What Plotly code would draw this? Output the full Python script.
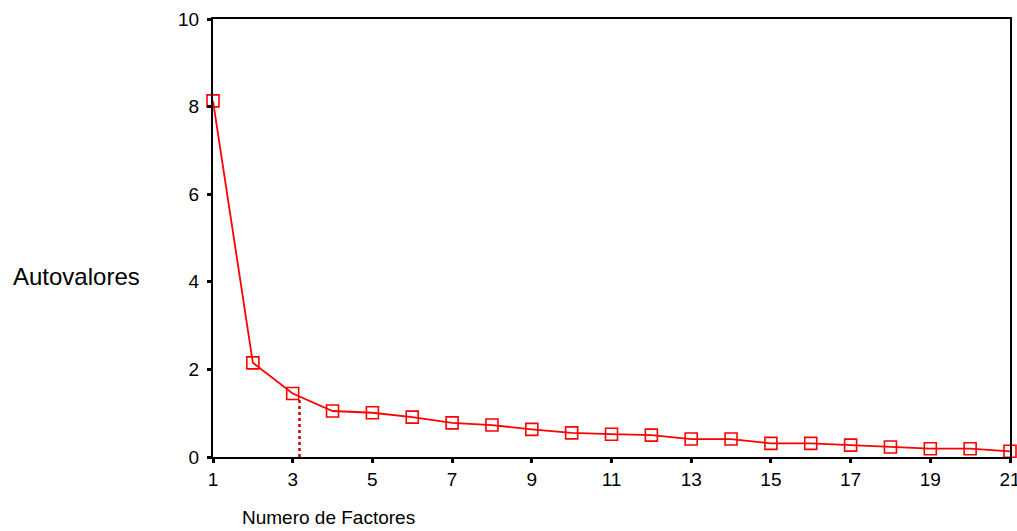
import plotly.graph_objects as go

factores = list(range(1, 22))
autovalores = [8.13, 2.15, 1.45, 1.05, 1.01, 0.91, 0.78, 0.73, 0.63, 0.55, 0.52,
               0.50, 0.41, 0.41, 0.31, 0.31, 0.27, 0.23, 0.19, 0.19, 0.13]
x_ticks = list(range(1, 22, 2))
y_ticks = [0, 2, 4, 6, 8, 10]
corte_x = 3.17
corte_y = 1.38

RED = "#ff0000"
FONT = "Liberation Sans, Arial, sans-serif"

fig = go.Figure()
fig.add_trace(go.Scatter(
    x=factores, y=autovalores, mode="lines+markers",
    line=dict(color=RED, width=1.8),
    marker=dict(symbol="square-open", size=12, color=RED, line=dict(width=1.6, color=RED)),
    cliponaxis=False, showlegend=False, hoverinfo="x+y"))
fig.add_trace(go.Scatter(
    x=[corte_x, corte_x], y=[0, corte_y], mode="lines",
    line=dict(color="#cc0000", width=2.5, dash="dot"),
    showlegend=False, hoverinfo="skip"))

axis_common = dict(showline=True, linecolor="black", linewidth=2, mirror=True,
                   showgrid=False, zeroline=False, ticks="outside", ticklen=4,
                   tickwidth=3, tickcolor="black", ticklabeloverflow="allow",
                   automargin=False,
                   tickfont=dict(family=FONT, size=19, color="black"))
fig.update_xaxes(range=[1, 21], tickvals=x_ticks, **axis_common)
fig.update_yaxes(range=[0, 10], tickvals=y_ticks, ticklabelstandoff=4, **axis_common)

fig.add_annotation(text="Autovalores", xref="paper", yref="paper",
                   x=(76 - 213) / 797, y=(457.5 - 277) / 438.5,
                   xanchor="center", yanchor="middle", showarrow=False,
                   font=dict(family=FONT, size=24, color="black"))
fig.add_annotation(text="Numero de Factores", xref="paper", yref="paper",
                   x=(328 - 213) / 797, y=(457.5 - 518) / 438.5,
                   xanchor="center", yanchor="middle", showarrow=False,
                   font=dict(family=FONT, size=19, color="black"))

fig.update_layout(width=1017, height=531, plot_bgcolor="white", paper_bgcolor="white",
                  margin=dict(l=213, r=7, t=19, b=73.5, pad=0, autoexpand=False))
fig.write_html("out.html", config={"displayModeBar": False})

with open("out.html", "r", encoding="utf-8") as f:
    html = f.read()
html = html.replace("<head>", "<head><style>html,body{margin:0;padding:0;overflow:hidden}</style>", 1)
with open("out.html", "w", encoding="utf-8") as f:
    f.write(html)
